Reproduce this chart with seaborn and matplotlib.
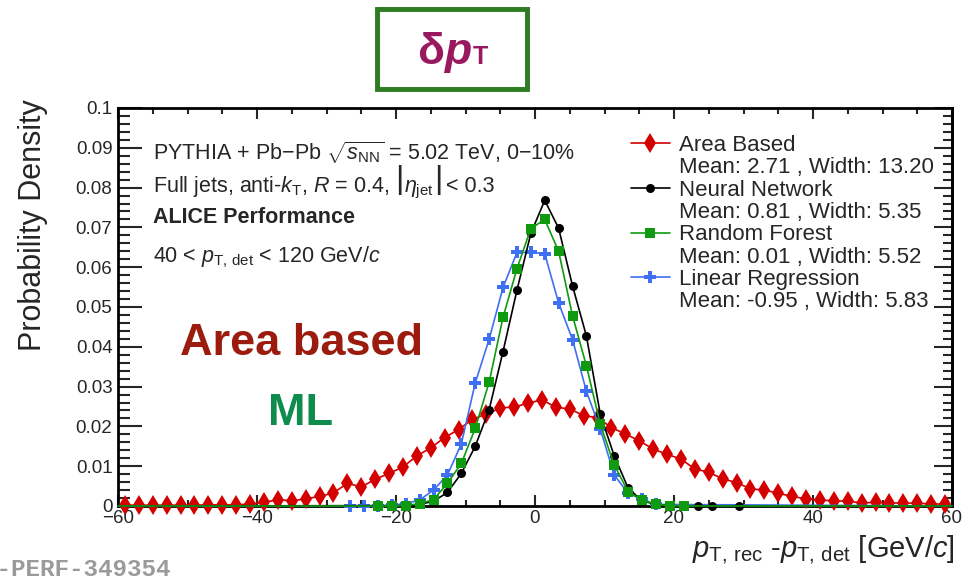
import numpy as np
import pandas as pd
import matplotlib
matplotlib.use("Agg")
import matplotlib.pyplot as plt
import seaborn as sns
from matplotlib.lines import Line2D
from matplotlib.patches import Rectangle
from matplotlib.ticker import MultipleLocator, FuncFormatter

# ---------------- data ----------------
area_x = [-59, -57, -55, -53, -51, -49, -47, -45, -43, -41, -39, -37, -35, -33, -31,
          -29, -27, -25, -23, -21, -19, -17, -15, -13, -11, -9, -7, -5, -3, -1,
          1, 3, 5, 7, 9, 11, 13, 15, 17, 19, 21, 23, 25, 27, 29,
          31, 33, 35, 37, 39, 41, 43, 45, 47, 49, 51, 53, 55, 57, 59]
area_y = [0.0002, 0.0002, 0.0002, 0.0002, 0.0002, 0.0002, 0.0003, 0.0003, 0.0003, 0.0005,
          0.0009, 0.0016, 0.0013, 0.0018, 0.0024, 0.0033, 0.0057, 0.0048, 0.0067, 0.0082,
          0.0098, 0.0126, 0.0146, 0.0172, 0.0192, 0.0218, 0.0231, 0.0246, 0.0249, 0.0258,
          0.0267, 0.0248, 0.0244, 0.0227, 0.0222, 0.0197, 0.0181, 0.0164, 0.0143, 0.0130,
          0.0118, 0.0093, 0.0085, 0.0068, 0.0059, 0.0043, 0.0040, 0.0032, 0.0024, 0.0018,
          0.0015, 0.0013, 0.0012, 0.0008, 0.0009, 0.0008, 0.0007, 0.0007, 0.0005, 0.0005]

nn_x = [-18.6, -16.6, -14.6, -12.6, -10.6, -8.6, -6.6, -4.6, -2.6, -0.6, 1.4, 3.4, 5.4,
        7.4, 9.4, 11.4, 13.4, 15.4, 17.4, 19.4, 21.4, 23.4, 25.4, 29.4]
nn_y = [0.0001, 0.0004, 0.0012, 0.0034, 0.0082, 0.0150, 0.0242, 0.0388, 0.0542, 0.0685,
        0.0768, 0.0698, 0.0553, 0.0427, 0.0230, 0.0126, 0.0045, 0.0013, 0.0004, 0.0001,
        0.0, 0.0, 0.0, 0.0]

rf_x = [-22.6, -20.6, -18.6, -16.6, -14.6, -12.6, -10.6, -8.6, -6.6, -4.6, -2.6, -0.6,
        1.4, 3.4, 5.4, 7.4, 9.4, 11.4, 13.4, 15.4, 17.4, 19.4, 21.4]
rf_y = [0.0, 0.0, 0.0001, 0.0006, 0.0016, 0.0057, 0.0107, 0.0195, 0.0311, 0.0474, 0.0596,
        0.0697, 0.0720, 0.0640, 0.0478, 0.0352, 0.0205, 0.0103, 0.0036, 0.0015, 0.0004,
        0.0001, 0.0]

lr_x = [-26.6, -24.6, -22.6, -20.6, -18.6, -16.6, -14.6, -12.6, -10.6, -8.6, -6.6, -4.6,
        -2.6, -0.6, 1.4, 3.4, 5.4, 7.4, 9.4, 11.4, 13.4, 15.4, 17.4]
lr_y = [0.0, 0.0, 0.0, 0.0002, 0.0006, 0.0015, 0.0040, 0.0078, 0.0156, 0.0309, 0.0419,
        0.0549, 0.0637, 0.0637, 0.0634, 0.0510, 0.0418, 0.0288, 0.0193, 0.0078, 0.0032,
        0.0017, 0.0004]

legend_names = ["Area Based", "Neural Network", "Random Forest", "Linear Regression"]
legend_stats = ["Mean: 2.71 , Width: 13.20", "Mean: 0.81 , Width: 5.35",
                "Mean: 0.01 , Width: 5.52", "Mean: -0.95 , Width: 5.83"]

x_ticks = [-60, -40, -20, 0, 20, 40, 60]
y_ticks = [0, 0.01, 0.02, 0.03, 0.04, 0.05, 0.06, 0.07, 0.08, 0.09, 0.1]

# ---------------- style ----------------
sns.set_theme(style="ticks")
plt.rcParams["font.family"] = ["Liberation Sans", "DejaVu Sans"]
plt.rcParams["mathtext.fontset"] = "custom"
plt.rcParams["mathtext.rm"] = "Liberation Sans"
plt.rcParams["mathtext.it"] = "Liberation Sans:italic"
plt.rcParams["mathtext.bf"] = "Liberation Sans:bold"
plt.rcParams["mathtext.sf"] = "Liberation Sans"

RED = "#d40000"
BLACK = "#000000"
GREEN = "#0f9a0f"
BLUE = "#3f6ff2"

W, H = 969, 580
fig = plt.figure(figsize=(W / 100, H / 100), dpi=100)
L, R, T, B = 118, 952, 108, 506
ax = fig.add_axes([L / W, 1 - B / H, (R - L) / W, (B - T) / H])


def fx(px):
    return (px - L) / (R - L)


def fy(py):
    return (B - py) / (B - T)


XMIN, XMAX = -60, 60
lw = 1.2

# Area based (straight segments)
sns.lineplot(x=area_x, y=area_y, ax=ax, color=RED, lw=lw, marker="d", markersize=10,
             markeredgewidth=0, estimator=None, zorder=3, clip_on=False)


def ml_series(xs, ys, color, marker, ms, z, mew=0):
    lx = [XMIN] + list(xs) + [XMAX]
    ly = [0.0] + list(ys) + [0.0]
    sns.lineplot(x=lx, y=ly, ax=ax, color=color, lw=lw, marker=marker, markersize=ms,
                 markeredgewidth=mew, markeredgecolor=color, markevery=slice(1, -1),
                 estimator=None, zorder=z, clip_on=False)


ml_series(lr_x, lr_y, BLUE, "P", 9, 4)
ml_series(nn_x, nn_y, BLACK, "o", 6.5, 5)
ml_series(rf_x, rf_y, GREEN, "s", 6.5, 6)

ax.set_xlim(XMIN, XMAX)
ax.set_ylim(0, 0.1)
ax.set_xlabel("")
ax.set_ylabel("")

# ---------------- axes / ticks ----------------
for sp in ax.spines.values():
    sp.set_visible(True)
    sp.set_linewidth(2.0)
    sp.set_color("black")
    sp.set_zorder(2)

ax.set_xticks(x_ticks)
ax.set_yticks(y_ticks)
ax.xaxis.set_minor_locator(MultipleLocator(5))
ax.yaxis.set_minor_locator(MultipleLocator(0.002))
ax.yaxis.set_major_formatter(FuncFormatter(lambda v, p: "%g" % round(v, 4)))
ax.xaxis.set_major_formatter(FuncFormatter(lambda v, p: ("%g" % v).replace("-", "\u2212")))
ax.tick_params(axis="x", which="major", direction="in", length=8, width=1.5,
               top=True, bottom=True, labelsize=13.5, pad=3)
ax.tick_params(axis="x", which="minor", direction="in", length=4, width=1.5,
               top=True, bottom=True)
ax.tick_params(axis="y", which="major", direction="in", length=17, width=1.5,
               left=True, right=False, labelsize=13.5, pad=4)
ax.tick_params(axis="y", which="minor", direction="in", length=8.5, width=1.5,
               left=True, right=False)
sec = ax.secondary_yaxis("right")
sec.set_yticks(y_ticks)
sec.yaxis.set_minor_locator(MultipleLocator(0.002))
sec.tick_params(axis="y", which="major", direction="in", length=13, width=1.5, labelright=False)
sec.tick_params(axis="y", which="minor", direction="in", length=6.5, width=1.5)
sec.spines["right"].set_linewidth(2.0)

# ---------------- axis titles ----------------
fig.text(33 / W, 1 - 225 / H, "Probability Density", rotation=90, ha="center", va="center",
         fontsize=22)
fig.text(955 / W, 1 - 557 / H,
         r"$p_{\mathrm{T,\,rec}}$ -$p_{\mathrm{T,\,det}}$ [GeV/$c$]",
         ha="right", va="baseline", fontsize=21)

# ---------------- info texts ----------------
info_fs = 15.5
ax.text(fx(153), fy(160), r"PYTHIA + Pb$-$Pb $\sqrt{s_{\mathrm{NN}}}$ = 5.02 TeV, 0$-$10%",
        transform=ax.transAxes, fontsize=info_fs, va="baseline", ha="left")
renderer = fig.canvas.get_renderer()
t_a = ax.text(fx(153), fy(192), r"Full jets, anti-$k_{\mathrm{T}}$, $R$ = 0.4,",
              transform=ax.transAxes, fontsize=info_fs, va="baseline", ha="left")
bba = t_a.get_window_extent(renderer)
bar1 = fig.text((bba.x1 + 6) / W, (H - 192) / H + 4 / H, "|", fontsize=23, va="baseline",
                ha="left")
bb1 = bar1.get_window_extent(renderer)
eta = fig.text(bb1.x1 / W, (H - 192) / H, r"$\eta_{\mathrm{jet}}$", fontsize=info_fs,
               va="baseline", ha="left")
bbe = eta.get_window_extent(renderer)
bar2 = fig.text((bbe.x1 + 1) / W, (H - 192) / H + 4 / H, "|", fontsize=23, va="baseline",
                ha="left")
bb2_ = bar2.get_window_extent(renderer)
fig.text((bb2_.x1 + 3) / W, (H - 192) / H, "< 0.3", fontsize=info_fs, va="baseline", ha="left")

ax.text(fx(153), fy(223), "ALICE Performance", transform=ax.transAxes, fontsize=info_fs,
        fontweight="bold", va="baseline", ha="left")
ax.text(fx(153), fy(262), r"40 < $p_{\mathrm{T,\,det}}$ < 120 GeV/$c$",
        transform=ax.transAxes, fontsize=info_fs, va="baseline", ha="left")

ax.text(fx(180), fy(355), "Area based", transform=ax.transAxes, fontsize=32.5,
        fontweight="bold", color="#9b1b0e", va="baseline", ha="left", zorder=1)
ax.text(fx(268), fy(425), "ML", transform=ax.transAxes, fontsize=32.5,
        fontweight="bold", color="#0e8c4e", va="baseline", ha="left", zorder=1)

# ---------------- legend ----------------
handles = []
labels = []
specs = [(RED, "d", 10, 0), (BLACK, "o", 6.5, 0), (GREEN, "s", 6.5, 0), (BLUE, "P", 9, 0)]
for (c, m, ms, mew), name, stat in zip(specs, legend_names, legend_stats):
    handles.append(Line2D([], [], color=c, marker=m, markersize=ms, lw=lw, markeredgewidth=mew))
    labels.append(name)
    handles.append(Line2D([], [], ls="none", marker=None))
    labels.append(stat)
leg = ax.legend(handles, labels, loc="upper left", bbox_to_anchor=(fx(631), fy(135)),
                frameon=False, fontsize=16, handlelength=1.75, handletextpad=0.4,
                labelspacing=0.06, borderpad=0, borderaxespad=0)

# ---------------- title box ----------------
for dx, dy, a, w in [(0, 0, 1.0, 3.5), (1.5, -1.0, 0.6, 1.5), (-1.2, 1.2, 0.5, 1.2)]:
    fig.patches.append(Rectangle(((377 + dx) / W, 1 - (89 + dy) / H), 150 / W, 80 / H,
                                 transform=fig.transFigure, fill=False,
                                 edgecolor="#2f7d22", lw=w, alpha=a))
TCOL = "#98195f"
t1 = fig.text(417 / W, 1 - 64 / H, "\u03b4", fontsize=32, fontweight="bold", color=TCOL,
              ha="left", va="baseline")
bb = t1.get_window_extent(renderer)
t2 = fig.text((bb.x1 + 1) / W, 1 - 64 / H, "p", fontsize=32, fontweight="bold",
              fontstyle="italic", color=TCOL, ha="left", va="baseline")
bb2 = t2.get_window_extent(renderer)
fig.text((bb2.x1 + 1) / W, 1 - 64 / H, "T", fontsize=18, fontweight="bold", color=TCOL,
         ha="left", va="baseline")

# ---------------- watermark ----------------
fig.text(171 / W, 1 - 570 / H, "ALICE-PERF-349354", ha="right", va="center",
         family="Liberation Mono", fontweight="bold", color="#9a9a9a", fontsize=17.5)

fig.savefig("out.png", dpi=100)
